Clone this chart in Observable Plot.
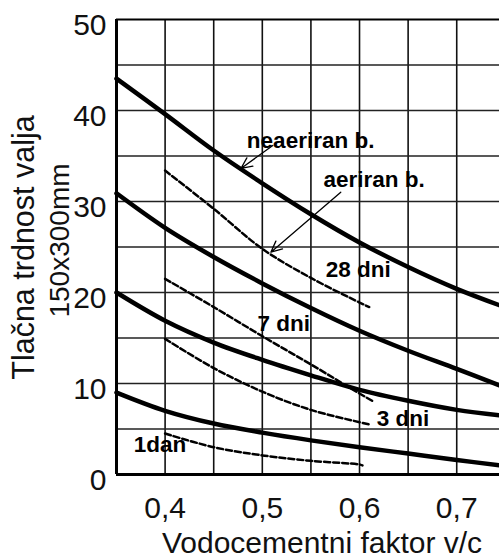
<!DOCTYPE html>
<html><head><meta charset="utf-8">
<script src="https://cdn.jsdelivr.net/npm/d3@7"></script>
<script src="https://cdn.jsdelivr.net/npm/@observablehq/plot@0.6"></script>
<style>html,body{margin:0;padding:0;background:#fff}</style>
</head><body><div id="chart"></div>
<script>
// water/cement ratio samples for the non-aerated (solid) curves
const xSolid = [0.35, 0.40, 0.45, 0.50, 0.55, 0.60, 0.65, 0.70, 0.744];
const neaer28 = [43.5, 39.6, 35.6, 32.0, 28.6, 25.5, 22.8, 20.4, 18.6];
const neaer7  = [30.9, 27.1, 23.9, 21.0, 18.3, 15.8, 13.6, 11.6, 9.8];
const neaer3  = [20.0, 16.9, 14.5, 12.6, 10.9, 9.3, 8.1, 7.1, 6.5];
const neaer1  = [9.0, 7.0, 5.6, 4.6, 3.75, 3.0, 2.3, 1.6, 1.0];
// aerated (dashed) curves
const xAer = [0.40, 0.45, 0.50, 0.55, 0.60];
const aer28 = [33.4, 29.2, 24.8, 21.6, 18.9];
const aer7  = [21.5, 18.4, 15.2, 12.1, 8.9];
const aer3  = [14.9, 11.7, 9.1, 7.1, 5.75];
const aer1  = [4.5, 3.0, 2.1, 1.5, 1.1];
const aerEndX = [0.610, 0.613, 0.610, 0.603];
const aerEndY = [18.4, 8.1, 5.5, 1.0];
const ages = ["28 dni", "7 dni", "3 dni", "1dan"];
// ticks and grid
const xTicks = [0.4, 0.5, 0.6, 0.7];
const yTicks = [0, 10, 20, 30, 40, 50];
const xGrid = [0.40, 0.45, 0.50, 0.55, 0.60, 0.65, 0.70];
const yGrid = [5, 10, 15, 20, 25, 30, 35, 40, 45];
// annotations
const labelText = ["neaeriran b.", "aeriran b.", "28 dni", "7 dni", "3 dni", "1dan"];
const labelX = [0.4841, 0.563, 0.5653, 0.4951, 0.6177, 0.3677];
const labelY = [35.93, 31.57, 21.68, 15.82, 5.38, 2.45];
const arrowX1 = [0.5108, 0.5807];
const arrowY1 = [36.15, 31.02];
const arrowX2 = [0.4780, 0.5088];
const arrowY2 = [33.63, 24.43];

const solidSeries = [neaer28, neaer7, neaer3, neaer1];
const aerSeries = [aer28, aer7, aer3, aer1];
const solidRows = solidSeries.flatMap((s, i) => s.map((v, j) => ({age: ages[i], x: xSolid[j], y: v})));
const aerRows = aerSeries.flatMap((s, i) => s.map((v, j) => ({age: ages[i], x: xAer[j], y: v}))
  .concat([{age: ages[i], x: aerEndX[i], y: aerEndY[i]}]));
const labels = labelText.map((t, i) => ({t, x: labelX[i], y: labelY[i]}));
const arrows = arrowX1.map((d, i) => ({x1: arrowX1[i], y1: arrowY1[i], x2: arrowX2[i], y2: arrowY2[i]}));
const fmt = d => d.toFixed(1).replace(".", ",");

const chart = Plot.plot({
  width: 499,
  height: 558,
  marginTop: 19,
  marginBottom: 84,
  marginLeft: 116,
  marginRight: 0,
  style: {fontFamily: "'Liberation Sans', Arial, sans-serif", fontSize: "30px", background: "#fff", color: "#111"},
  x: {domain: [0.35, 0.744]},
  y: {domain: [0, 50]},
  marks: [
    Plot.ruleX(xGrid, {stroke: "#111", strokeWidth: 1.6}),
    Plot.ruleY(yGrid, {stroke: "#222", strokeWidth: 1.5}),
    Plot.ruleX([0.35], {stroke: "#000", strokeWidth: 3}),
    Plot.ruleY([0], {stroke: "#000", strokeWidth: 3}),
    Plot.ruleY([50], {stroke: "#000", strokeWidth: 2}),
    Plot.line(solidRows, {x: "x", y: "y", z: "age", stroke: "#000", strokeWidth: 4.5, curve: "catmull-rom"}),
    Plot.line(aerRows, {x: "x", y: "y", z: "age", stroke: "#000", strokeWidth: 2.5, strokeDasharray: "6,3", curve: "catmull-rom"}),
    Plot.arrow(arrows, {x1: "x1", y1: "y1", x2: "x2", y2: "y2", stroke: "#000", strokeWidth: 1.3, headLength: 14, headAngle: 50}),
    Plot.text(labels, {x: "x", y: "y", text: "t", fontWeight: "bold", fontSize: 22.5, textAnchor: "start", lineAnchor: "bottom", fill: "#000"}),
    Plot.axisY({ticks: yTicks, tickSize: 0, tickPadding: 10, fontSize: 30, dy: 6, label: null, tickFormat: d => String(d)}),
    Plot.axisX({ticks: xTicks, tickSize: 0, tickPadding: 22, fontSize: 30, label: null, tickFormat: fmt}),
    Plot.text(["Vodocementni faktor v/c"], {text: d => d, frameAnchor: "bottom", textAnchor: "middle", dy: 78, dx: 14, lineAnchor: "bottom", fontSize: 30}),
    Plot.text(["Tlačna trdnost valja"], {text: d => d, frameAnchor: "left", textAnchor: "middle", rotate: -90, dx: -83, dy: 0.5, lineAnchor: "bottom", fontSize: 30.5}),
    Plot.text(["150x300mm"], {text: d => d, frameAnchor: "left", textAnchor: "middle", rotate: -90, dx: -48, dy: -6.5, lineAnchor: "bottom", fontSize: 28})
  ]
});
document.getElementById("chart").appendChild(chart);
</script>
</body></html>
